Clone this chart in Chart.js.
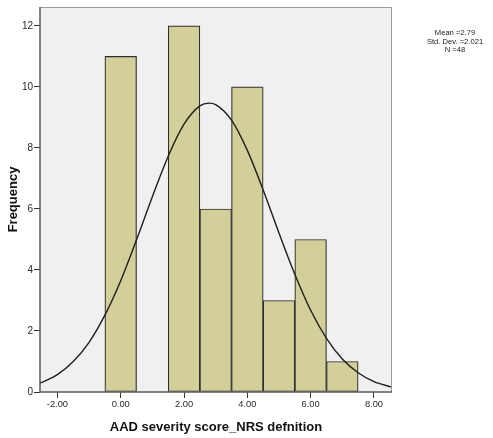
<!DOCTYPE html>
<html>
<head>
<meta charset="utf-8">
<script src="https://cdn.jsdelivr.net/npm/chart.js@4/dist/chart.umd.min.js"></script>
<style>
  html, body { margin: 0; padding: 0; background: #ffffff; }
  #wrap { width: 493px; height: 438px; }
</style>
</head>
<body>
<div id="wrap"><canvas id="c" width="493" height="438"></canvas></div>
<script>
// ---- Data ----
const binCenters  = [0, 2, 3, 4, 5, 6, 7];
const frequencies = [11, 12, 6, 10, 3, 5, 1];

// Fitted normal curve
const curveX = [-2.55, -2, -1.5, -1, -0.5, 0, 0.5, 1, 1.5, 2, 2.5, 2.79, 3, 3.5, 4, 4.5, 5, 5.5, 6, 6.5, 7, 7.5, 8, 8.57];
const curveY = [0.29, 0.57, 1.00, 1.63, 2.52, 3.65, 4.99, 6.40, 7.73, 8.78, 9.38, 9.47, 9.42, 8.91, 7.92, 6.62, 5.21, 3.86, 2.68, 1.76, 1.08, 0.63, 0.34, 0.16];

const xTickValues = [-2, 0, 2, 4, 6, 8];
const xTickLabels = ['-2.00', '0.00', '2.00', '4.00', '6.00', '8.00'];
const yTickValues = [0, 2, 4, 6, 8, 10, 12];
const yTickLabels = ['0', '2', '4', '6', '8', '10', '12'];
const xRange = [-2.55, 8.57];
const yRange = [0, 12.62];

const statLines = ['Mean =2.79', 'Std. Dev. =2.021', 'N =48'];
const xTitle = 'AAD severity score_NRS defnition';
const yTitle = 'Frequency';

const FONT = "'Liberation Sans', Arial, sans-serif";

const plotDecor = {
  id: 'plotDecor',
  beforeDraw(chart) {
    const {ctx, chartArea: a} = chart;
    ctx.save();
    ctx.fillStyle = '#ffffff';
    ctx.fillRect(0, 0, chart.width, chart.height);
    ctx.fillStyle = '#f0f0f0';
    ctx.fillRect(a.left, a.top, a.right - a.left, a.bottom - a.top);
    ctx.restore();
  },
  afterDatasetsDraw(chart) {
    const {ctx, chartArea: a} = chart;
    ctx.save();
    ctx.strokeStyle = '#9a9a9a';
    ctx.lineWidth = 1;
    ctx.beginPath();
    ctx.moveTo(a.left, a.top + 0.5);
    ctx.lineTo(a.right - 0.5, a.top + 0.5);
    ctx.lineTo(a.right - 0.5, a.bottom);
    ctx.stroke();
    ctx.strokeStyle = '#5a5a5a';
    ctx.lineWidth = 1.5;
    ctx.beginPath();
    ctx.moveTo(a.left, a.top);
    ctx.lineTo(a.left, a.bottom);
    ctx.lineTo(a.right, a.bottom);
    ctx.stroke();
    ctx.restore();
  },
  afterDraw(chart) {
    const {ctx} = chart;
    ctx.save();
    ctx.fillStyle = '#222222';
    ctx.font = '7.6px ' + FONT;
    ctx.textAlign = 'center';
    ctx.textBaseline = 'middle';
    statLines.forEach((t, i) => ctx.fillText(t, 455, 33 + i * 8.5));
    ctx.restore();
  }
};

new Chart(document.getElementById('c'), {
  type: 'bar',
  data: {
    datasets: [
      {
        type: 'line',
        label: 'Normal',
        data: curveX.map((x, i) => ({x: x, y: curveY[i]})),
        borderColor: '#1e1e1e',
        borderWidth: 1.4,
        pointRadius: 0,
        fill: false,
        cubicInterpolationMode: 'monotone',
        order: 0
      },
      {
        type: 'bar',
        label: 'Frequency',
        data: binCenters.map((x, i) => ({x: x, y: frequencies[i]})),
        backgroundColor: '#d3cf98',
        borderColor: '#2f2f2f',
        borderWidth: 1.2,
        borderSkipped: false,
        barPercentage: 1,
        categoryPercentage: 1,
        order: 1
      }
    ]
  },
  options: {
    responsive: false,
    animation: false,
    events: [],
    layout: { padding: { left: 0, right: 101, top: 7, bottom: 0 } },
    plugins: { legend: { display: false }, tooltip: { enabled: false } },
    scales: {
      x: {
        type: 'linear',
        min: xRange[0],
        max: xRange[1],
        offset: false,
        afterBuildTicks(s) { s.ticks = xTickValues.map(v => ({value: v})); },
        afterFit(s) { s.height = 46; },
        grid: { display: true, drawOnChartArea: false, offset: false, tickLength: 6, color: '#333333', tickWidth: 1 },
        border: { display: false },
        ticks: {
          autoSkip: false, maxRotation: 0, padding: 1, color: '#2a2a2a',
          font: { family: FONT, size: 9.3 },
          callback: (v) => { const i = xTickValues.indexOf(v); return i >= 0 ? xTickLabels[i] : ''; }
        },
        title: {
          display: true, text: xTitle, color: '#111111',
          font: { family: FONT, size: 13, weight: 'bold' },
          padding: { top: 0, bottom: 3 }
        }
      },
      y: {
        type: 'linear',
        min: yRange[0],
        max: yRange[1],
        afterBuildTicks(s) { s.ticks = yTickValues.map(v => ({value: v})); },
        afterFit(s) { s.width = 40; },
        grid: { display: true, drawOnChartArea: false, tickLength: 6, color: '#333333', tickWidth: 1 },
        border: { display: false },
        ticks: {
          autoSkip: false, padding: 1, color: '#2a2a2a',
          font: { family: FONT, size: 10 },
          callback: (v) => { const i = yTickValues.indexOf(v); return i >= 0 ? yTickLabels[i] : ''; }
        },
        title: {
          display: true, text: yTitle, color: '#111111',
          font: { family: FONT, size: 13, weight: 'bold' },
          padding: { top: 6, bottom: 0 }
        }
      }
    }
  },
  plugins: [plotDecor]
});
</script>
</body>
</html>
